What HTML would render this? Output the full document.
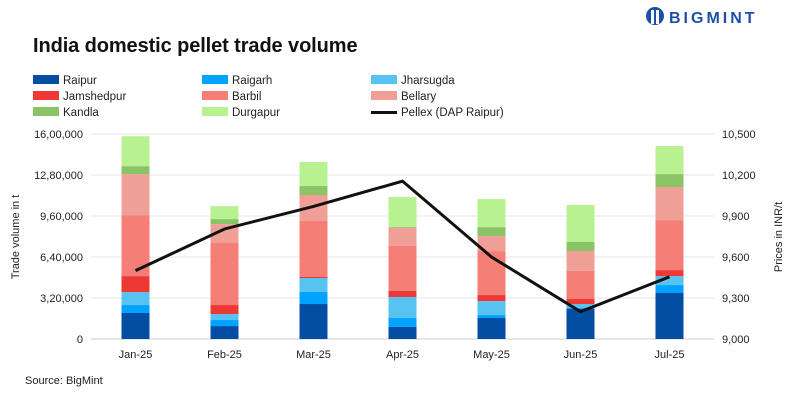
<!DOCTYPE html>
<html><head><meta charset="utf-8"><style>
body{margin:0;background:#fff;width:799px;height:400px;overflow:hidden;font-family:"Liberation Sans",sans-serif;}
svg text{font-family:"Liberation Sans",sans-serif;}
</style></head><body>
<svg id="chart" width="799" height="400" xmlns="http://www.w3.org/2000/svg">
<g>
<circle cx="655" cy="16" r="9" fill="#1c4fa8"/>
<rect x="651" y="10" width="3" height="14" fill="#fff"/><rect x="656" y="10" width="3" height="14" fill="#fff"/>
<text x="669" y="23" font-size="16" font-weight="bold" fill="#1c4fa8" letter-spacing="3">BIGMINT</text>
</g>
<text x="33" y="52" font-size="20" font-weight="bold" fill="#111" letter-spacing="-0.1">India domestic pellet trade volume</text>
<g id="legend"></g>
<g id="grid"></g><g id="bars"></g><g id="line"></g><g id="axes"></g>
<text transform="translate(19,237) rotate(-90)" text-anchor="middle" font-size="11" fill="#222">Trade volume in t</text>
<text transform="translate(782,237) rotate(-90)" text-anchor="middle" font-size="11" fill="#222">Prices in INR/t</text>
<text x="25" y="384" font-size="11" fill="#222">Source: BigMint</text>
</svg>
<script>
const categories=["Jan-25","Feb-25","Mar-25","Apr-25","May-25","Jun-25","Jul-25"];
const seriesNames=["Raipur","Raigarh","Jharsugda","Jamshedpur","Barbil","Bellary","Kandla","Durgapur"];
const seriesColors=["#034ea2","#00a3ff","#56c3f2","#ee3833","#f57e76","#f09f97","#8ac466","#b8f190"];
const raipur=[203000,101000,273000,94000,164000,234000,359000];
const raigarh=[62000,47000,94000,70000,23000,8000,62000];
const jharsugda=[101000,47000,109000,164000,109000,31000,70000];
const jamshedpur=[125000,70000,8000,47000,47000,39000,47000];
const barbil=[476000,484000,437000,351000,343000,219000,390000];
const bellary=[320000,148000,203000,143000,117000,156000,258000];
const kandla=[62000,39000,70000,5000,70000,70000,101000];
const durgapur=[234000,101000,187000,234000,219000,289000,219000];
const pellex=[9500,9805,9970,10155,9600,9200,9455];
const leftTicks=[0,320000,640000,960000,1280000,1600000];
const leftTickLabels=["0","3,20,000","6,40,000","9,60,000","12,80,000","16,00,000"];
const rightTicks=[9000,9300,9600,9900,10200,10500];
const rightTickLabels=["9,000","9,300","9,600","9,900","10,200","10,500"];
const series=[raipur,raigarh,jharsugda,jamshedpur,barbil,bellary,kandla,durgapur];
const NS="http://www.w3.org/2000/svg";
const X0=91,X1=714,Y0=339,Y1=134;
const band=(X1-X0)/categories.length;
const xC=i=>X0+band*(i+0.5);
const yL=v=>Y0-(v/1600000)*(Y0-Y1);
const yR=v=>Y0-((v-9000)/1500)*(Y0-Y1);
function mk(tag,attrs,parent){const e=document.createElementNS(NS,tag);for(const k in attrs)e.setAttribute(k,attrs[k]);parent.appendChild(e);return e;}
const grid=document.getElementById('grid'),bars=document.getElementById('bars'),axes=document.getElementById('axes'),lineG=document.getElementById('line'),legend=document.getElementById('legend');
leftTicks.forEach((t,i)=>{
 const y=yL(t);
 const g=mk('line',{x1:X0,x2:X1,y1:y,y2:y,stroke:i===0?'#ccc':'#e6e6e6','stroke-width':1},grid);
 
 
 const tx=mk('text',{x:83,y:y+4,'text-anchor':'end','font-size':11,fill:'#222'},axes);tx.textContent=leftTickLabels[i];
 
 
});
rightTicks.forEach((t,i)=>{
 const tx=mk('text',{x:722,y:yR(t)+4,'font-size':11,fill:'#222'},axes);tx.textContent=rightTickLabels[i];
 
 
});
categories.forEach((c,i)=>{
 const tx=mk('text',{x:xC(i),y:358,'text-anchor':'middle','font-size':11,fill:'#222'},axes);tx.textContent=c;
 
 
 let acc=0;
 series.forEach((s,j)=>{
  const v=s[i];
  const r=mk('rect',{x:xC(i)-14,width:28,y:yL(acc+v),height:yL(acc)-yL(acc+v),fill:seriesColors[j]},bars);
  
  
  acc+=v;
 });
});
const pts=pellex.map((v,i)=>xC(i)+','+yR(v)).join(' ');
const pl=mk('polyline',{points:pts,fill:'none',stroke:'#111','stroke-width':3},lineG);


const legNames=seriesNames.concat(["Pellex (DAP Raipur)"]);
legNames.forEach((n,k)=>{
 const col=k%3,row=Math.floor(k/3);
 const x=[33,202,371][col],y=80+row*16;
 const g=mk('g',{},legend);
 
 
 if(k<8) mk('rect',{x:x,y:y-5,width:26,height:9,fill:seriesColors[k]},g);
 else mk('rect',{x:x,y:y-1,width:26,height:3,fill:'#111'},g);
 const t=mk('text',{x:x+30,y:y+4,'font-size':11.5,fill:'#222'},g);t.textContent=n;
});
</script>
</body></html>
